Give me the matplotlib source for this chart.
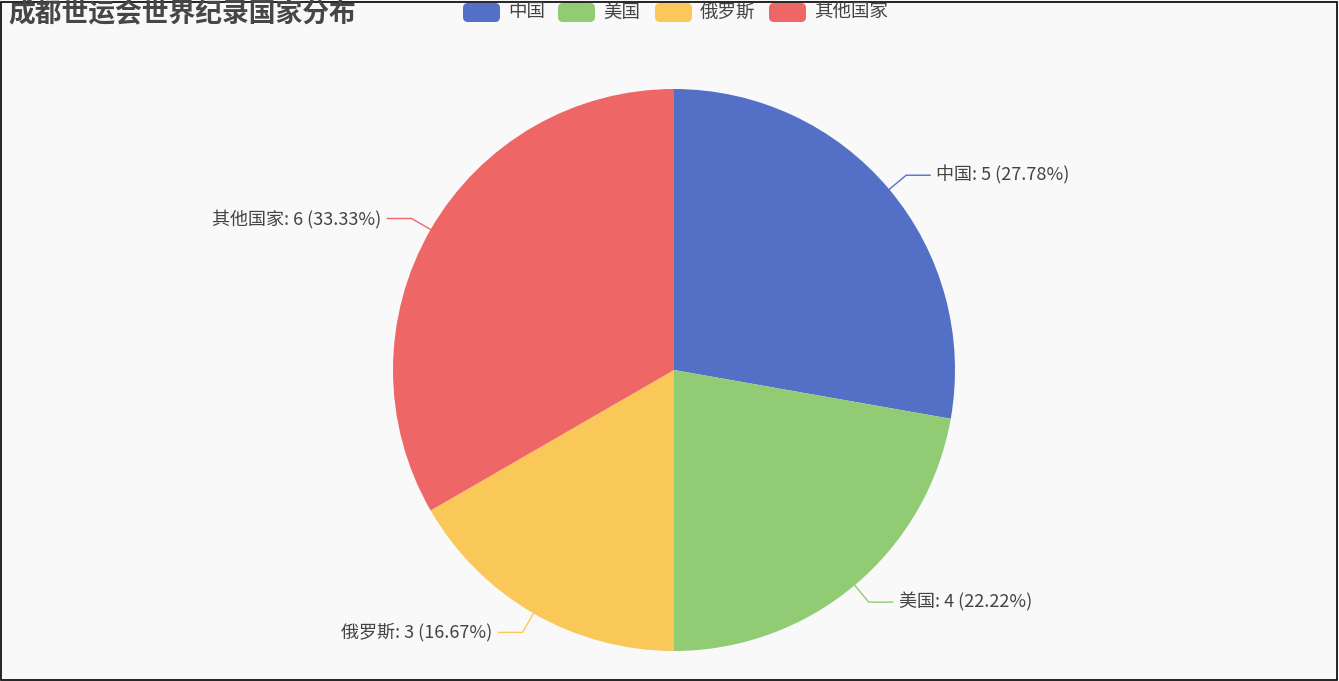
import numpy as np
import matplotlib.pyplot as plt
from matplotlib.patches import FancyBboxPatch, Rectangle

plt.rcParams['font.family'] = ['Noto Sans CJK SC', 'DejaVu Sans']

# 数据
title = "成都世运会世界纪录国家分布"
countries = ["中国", "美国", "俄罗斯", "其他国家"]
counts = [5, 4, 3, 6]
colors = ["#5470c6", "#91cc75", "#fac858", "#ee6666"]

W, H = 1339, 681
fig = plt.figure(figsize=(W / 100, H / 100), dpi=100)
fig.patch.set_facecolor("#f9f9f9")
ax = fig.add_axes([0, 0, 1, 1])
ax.set_facecolor("#f9f9f9")

# 饼图 (像素坐标, y 向上)
cx, cy, r = 674, H - 370, 281
wedges, _ = ax.pie(counts, colors=colors, startangle=90, counterclock=False,
                   center=(cx, cy), radius=r, frame=True,
                   wedgeprops=dict(linewidth=0))
ax.set_xlim(0, W)
ax.set_ylim(0, H)
ax.set_aspect("auto")
ax.axis("off")

# 标签和引导线
total = sum(counts)
start = 0
for name, val, col in zip(countries, counts, colors):
    mid = np.deg2rad((start + val / 2) / total * 360)
    start += val
    dx, dy = np.sin(mid), np.cos(mid)
    p0 = (cx + r * dx, cy + r * dy)
    p1 = (cx + (r + 22) * dx, cy + (r + 22) * dy)
    side = 1 if dx > 0 else -1
    p2 = (p1[0] + side * 24, p1[1])
    ax.plot([p0[0], p1[0], p2[0]], [p0[1], p1[1], p2[1]], color=col, lw=1)
    pct = val / total * 100
    ax.text(p2[0] + side * 6, p2[1], f"{name}: {val} ({pct:.2f}%)",
            ha="left" if side > 0 else "right", va="center",
            fontsize=13, color="#444444")

# 标题
ax.text(8, H - 14, title, fontsize=19.3, fontweight="bold", color="#464646",
        ha="left", va="center")

# 图例
leg_x = [463, 558, 655, 769]
for x0, name, col in zip(leg_x, countries, colors):
    box = FancyBboxPatch((x0, H - 22), 37, 19, boxstyle="round,pad=0,rounding_size=5",
                         facecolor=col, edgecolor="none")
    ax.add_patch(box)
    ax.text(x0 + 45, H - 12.5, name, fontsize=13.3, color="#444444",
            ha="left", va="center")

# 边框
ax.add_patch(Rectangle((1, 1.5), W - 3, H - 3, fill=False, edgecolor="black", lw=1.2))

fig.savefig("out.png", dpi=100, facecolor=fig.get_facecolor())
